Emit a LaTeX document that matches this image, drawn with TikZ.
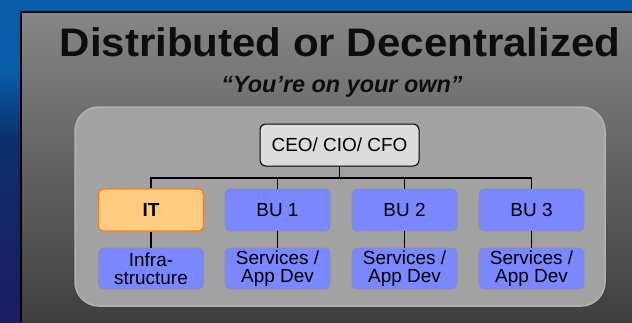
\documentclass[tikz,border=0pt]{standalone}
\usepackage{fontspec}
\setmainfont{Liberation Sans}
\usetikzlibrary{positioning}
\definecolor{sea1}{HTML}{0A5EA8}
\definecolor{sea2}{HTML}{0C2E6C}
\definecolor{sea3}{HTML}{1C1C5E}
\definecolor{paneltop}{HTML}{868686}
\definecolor{panelbot}{HTML}{3E3E3E}
\definecolor{inner}{HTML}{A2A2A2}
\definecolor{innerline}{HTML}{B2B2B2}
\definecolor{bufill}{HTML}{7A87FF}
\definecolor{buline}{HTML}{8C8CA8}
\definecolor{itfill}{HTML}{FFCC80}
\definecolor{itline}{HTML}{FF7A10}
\definecolor{ceofill}{HTML}{DCDCDC}
\tikzset{
  boxtext/.style={font=\fontsize{19}{18.3}\selectfont, align=center, text=black, inner sep=0pt},
  bubox/.style={boxtext, rectangle, rounded corners=5bp, fill=bufill, draw=buline, line width=0.8bp, minimum width=105bp, minimum height=42bp},
  subbox/.style={bubox, minimum height=41bp},
  itbox/.style={bubox, fill=itfill, draw=itline, line width=1.2bp, font=\fontsize{19}{18.3}\selectfont\bfseries},
  ceobox/.style={boxtext, rectangle, rounded corners=6bp, fill=ceofill, draw=black, line width=1bp, minimum width=159bp, minimum height=42bp},
  conn/.style={draw=black, line width=1.5bp}
}
\begin{document}
\begin{tikzpicture}[x=1bp,y=-1bp]
\useasboundingbox (0,0) rectangle (632,322);
% sea background
\shade[top color=sea1, bottom color=sea2, middle color=sea1] (0,0) rectangle (632,140);
\shade[top color=sea2, bottom color=sea3] (0,140) rectangle (632,322);
% panel
\shade[top color=paneltop, bottom color=panelbot] (21,12) rectangle (632,322);
\draw[black, line width=2bp] (21,322) -- (21,12) -- (632,12);
% title
\node[anchor=base, inner sep=0pt, text=black!95] (title) at (340,56.7)
  {\scalebox{1.055}[1]{\fontsize{40}{40}\selectfont\bfseries Distributed or Decentralized}};
\node[anchor=base, inner sep=0pt, text=black!95] (sub) at (342,92)
  {\fontsize{23.5}{23.5}\selectfont\bfseries\itshape “You’re on your own”};
% inner container
\draw[fill=inner, draw=innerline, line width=1.5bp, rounded corners=24bp] (75,107) rectangle (605,306);
% nodes
\node[ceobox] (ceo) at (339.5,145) {CEO/ CIO/ CFO};
\node[itbox] (it) at (151,210) {IT};
\node[bubox] (bu1) at (277.5,210) {BU 1};
\node[bubox] (bu2) at (404.5,210) {BU 2};
\node[bubox] (bu3) at (531.5,210) {BU 3};
\node[subbox] (infra) at (151,268.5) {Infra-\\structure};
\node[subbox] (s1) at (277.5,268.5) {Services /\\App Dev};
\node[subbox] (s2) at (404.5,268.5) {Services /\\App Dev};
\node[subbox] (s3) at (531.5,268.5) {Services /\\App Dev};
% connectors
\coordinate (bus) at (339.5,178);
\draw[conn] (ceo.south) -- (ceo.south |- bus);
\draw[conn] (it.north) -- (it.north |- bus) -- (bu3.north |- bus) -- (bu3.north);
\draw[conn] (bu1.north |- bus) -- (bu1.north);
\draw[conn] (bu2.north |- bus) -- (bu2.north);
\draw[conn] (it.south) -- (infra.north);
\draw[conn] (bu1.south) -- (s1.north);
\draw[conn] (bu2.south) -- (s2.north);
\draw[conn] (bu3.south) -- (s3.north);
\end{tikzpicture}
\end{document}
